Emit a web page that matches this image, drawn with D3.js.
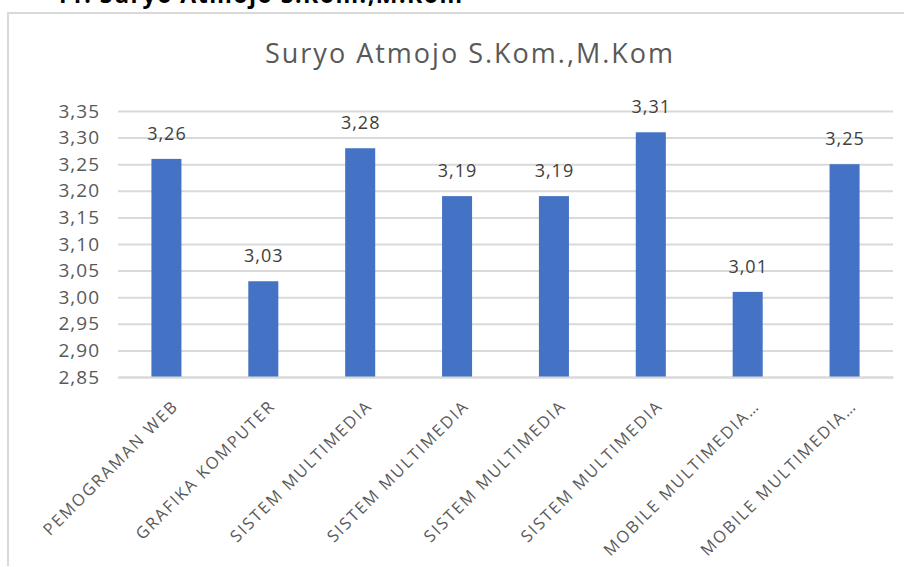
<!DOCTYPE html>
<html>
<head>
<meta charset="utf-8">
<script src="https://cdn.jsdelivr.net/npm/d3@7"></script>
<style>
  body { margin: 0; background: #fff; }
  svg { display: block; }
  text { font-family: "Open Sans", sans-serif; }
</style>
</head>
<body>
<script>
// data
var pageHeading = "11. Suryo Atmojo S.Kom.,M.Kom";
var chartTitle = "Suryo Atmojo S.Kom.,M.Kom";
var courses = ["PEMOGRAMAN WEB", "GRAFIKA KOMPUTER", "SISTEM MULTIMEDIA", "SISTEM MULTIMEDIA",
               "SISTEM MULTIMEDIA", "SISTEM MULTIMEDIA", "MOBILE MULTIMEDIA\u2026", "MOBILE MULTIMEDIA\u2026"];
var scores = [3.26, 3.03, 3.28, 3.19, 3.19, 3.31, 3.01, 3.25];
var yTicks = [2.85, 2.90, 2.95, 3.00, 3.05, 3.10, 3.15, 3.20, 3.25, 3.30, 3.35];

var W = 904, H = 567;
var plot = {left: 118, right: 893, top: 111, bottom: 377};

// Indonesian decimal comma
var idLocale = d3.formatLocale({decimal: ",", thousands: ".", grouping: [3], currency: ["Rp", ""]});
var fmt = idLocale.format(".2f");

var svg = d3.select("body").append("svg")
    .attr("width", W)
    .attr("height", H);

// clipped heading above the chart box
svg.append("text")
    .attr("x", 55)
    .attr("y", 3)
    .attr("font-size", 23)
    .attr("font-weight", "bold")
    .attr("letter-spacing", 1.5)
    .attr("fill", "#000")
    .text(pageHeading);

// chart box border (only top and left show in the crop)
svg.append("path")
    .attr("d", "M8,566V13H904")
    .attr("fill", "none")
    .attr("stroke", "#d9d9d9")
    .attr("stroke-width", 2);

var x = d3.scaleBand()
    .domain(d3.range(courses.length))
    .range([plot.left, plot.right])
    .paddingInner(0.69)
    .paddingOuter(0.345);

var y = d3.scaleLinear()
    .domain([2.85, 3.35])
    .range([plot.bottom, plot.top]);

// title
svg.append("text")
    .attr("x", 470)
    .attr("y", 63)
    .attr("text-anchor", "middle")
    .attr("font-size", 27)
    .attr("letter-spacing", 2)
    .attr("fill", "#595959")
    .text(chartTitle);

// gridlines + y labels
var yAxis = svg.append("g")
    .attr("transform", "translate(" + plot.left + ",0)")
    .call(d3.axisLeft(y).tickValues(yTicks).tickFormat(fmt)
      .tickSize(-(plot.right - plot.left)).tickPadding(18));
yAxis.select(".domain").remove();
yAxis.selectAll(".tick line").attr("stroke", "#d9d9d9").attr("stroke-width", 2);
yAxis.selectAll(".tick text")
    .attr("font-size", 19)
    .attr("letter-spacing", 1)
    .attr("fill", "#595959");

// bars
svg.append("g").selectAll("rect")
    .data(scores)
  .enter().append("rect")
    .attr("x", function(d, i) { return x(i); })
    .attr("y", function(d) { return y(d); })
    .attr("width", x.bandwidth())
    .attr("height", function(d) { return y(2.85) - y(d); })
    .attr("fill", "#4472c4");

// value labels
svg.append("g").selectAll("text")
    .data(scores)
  .enter().append("text")
    .attr("x", function(d, i) { return x(i) + x.bandwidth() / 2 + 0.5; })
    .attr("y", function(d) { return y(d) - 19; })
    .attr("text-anchor", "middle")
    .attr("font-size", 18)
    .attr("letter-spacing", 1)
    .attr("fill", "#404040")
    .text(function(d) { return fmt(d); });

// x axis line and rotated category labels
var xAxis = svg.append("g")
    .attr("transform", "translate(0," + plot.bottom + ")")
    .call(d3.axisBottom(x).tickSize(0).tickFormat(function(i) { return courses[i]; }));
xAxis.select(".domain").attr("stroke", "#d9d9d9").attr("stroke-width", 2);
xAxis.selectAll(".tick text")
    .attr("font-size", 16.5)
    .attr("letter-spacing", 1.9)
    .attr("fill", "#595959")
    .attr("text-anchor", "end")
    .attr("dy", null)
    .attr("y", 0)
    .attr("transform", "translate(13,30) rotate(-45)");
</script>
</body>
</html>
